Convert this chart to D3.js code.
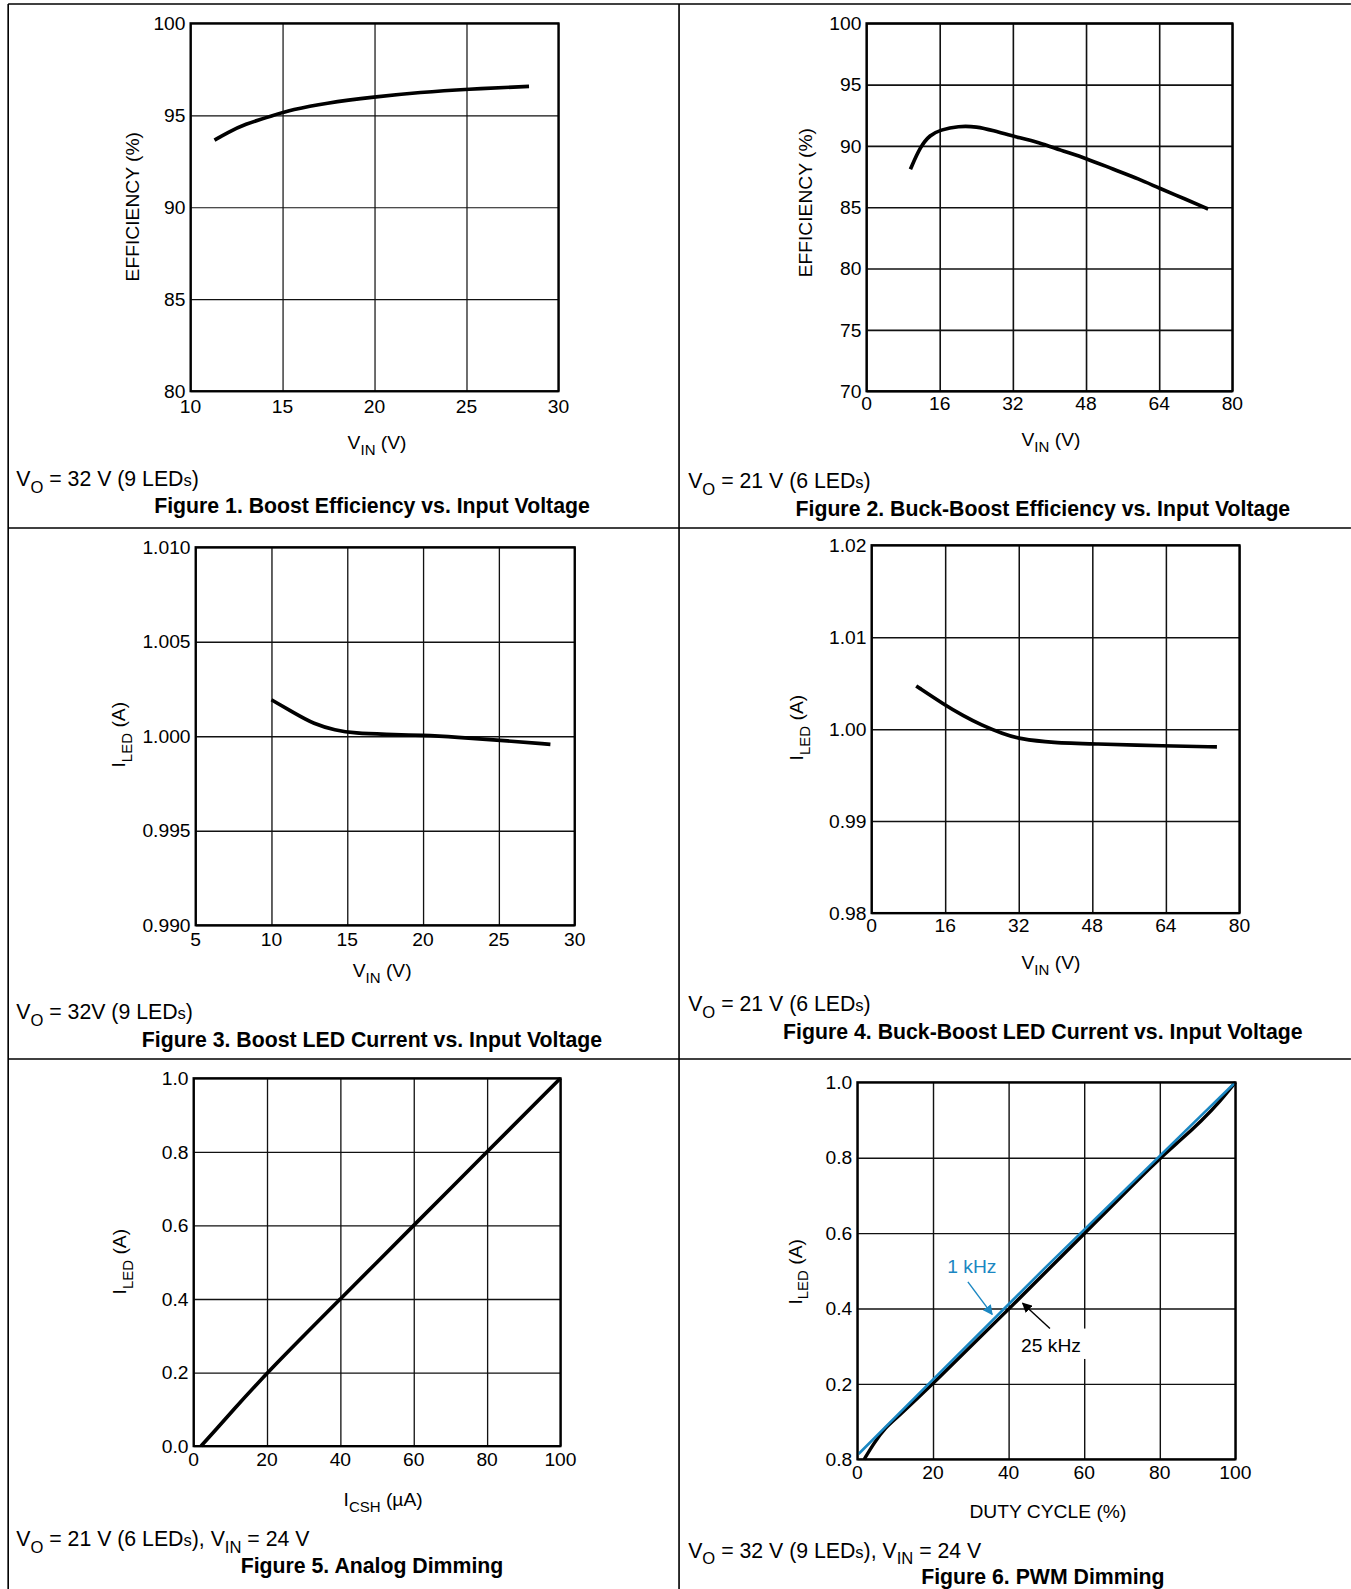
<!DOCTYPE html>
<html>
<head>
<meta charset="utf-8">
<script src="https://cdn.jsdelivr.net/npm/d3@7/dist/d3.min.js"></script>
<style>
  body { margin: 0; background: #fff; }
  svg text { font-family: "Liberation Sans", Arial, sans-serif; fill: #000; }
</style>
</head>
<body>
<svg id="chart"></svg>
<script>
// ---- data ----
var fig1Vin = [11.3, 12.0, 12.9, 14.5, 15.5, 17.3, 20, 22.5, 25, 28.4];
var fig1Eff = [93.65, 94.05, 94.5, 95.0, 95.3, 95.66, 96.0, 96.25, 96.42, 96.57];

var fig2Vin = [9.6, 11.75, 13.9, 16.1, 20.1, 24.1, 27.7, 32, 37.9, 42.2, 48, 53.9, 59.6, 64, 69.8, 74.7];
var fig2Eff = [88.1, 89.95, 90.9, 91.3, 91.63, 91.58, 91.25, 90.8, 90.27, 89.67, 89.0, 88.1, 87.3, 86.55, 85.65, 84.86];

var fig3Vin = [10, 11.5, 12.8, 14.2, 15.5, 17.5, 20, 22.2, 25, 28.4];
var fig3Iled = [1.00193, 1.00123, 1.00064, 1.00032, 1.00016, 1.0001, 1.00005, 0.99995, 0.99979, 0.99957];

var fig4Vin = [9.7, 16, 19.8, 24, 28.6, 32, 39.6, 48, 64, 75.1];
var fig4Iled = [1.0047, 1.0026, 1.0015, 1.0004, 0.9995, 0.99895, 0.99851, 0.9984, 0.99818, 0.99807];

var fig5Icsh = [2, 4, 6, 10, 20, 40, 60, 80, 100];
var fig5Iled = [0.0, 0.022, 0.044, 0.089, 0.2, 0.4, 0.6, 0.8, 1.0];

var fig6Duty1k = [0.3, 50, 100];
var fig6Iled1k = [0.014, 0.514, 1.0];
var fig6Duty25k = [1.8, 4.5, 7.5, 10, 20, 40, 60, 80, 85, 91, 96, 100];
var fig6Iled25k = [0.0, 0.045, 0.085, 0.106, 0.2, 0.398, 0.598, 0.8, 0.842, 0.897, 0.95, 1.0];

// tick values / labels
var vinTicks30 = [10, 15, 20, 25, 30];
var vinTicks5to30 = [5, 10, 15, 20, 25, 30];
var vinTicks80 = [0, 16, 32, 48, 64, 80];
var pctTicks = [0, 20, 40, 60, 80, 100];
var effTicks1 = [80, 85, 90, 95, 100];
var effTicks2 = [70, 75, 80, 85, 90, 95, 100];
var iledTicks3 = [0.990, 0.995, 1.000, 1.005, 1.010];
var iledTicks4 = [0.98, 0.99, 1.00, 1.01, 1.02];
var unitTicks = [0, 0.2, 0.4, 0.6, 0.8, 1.0];
var fig6YLabels = ["0.8", "0.2", "0.4", "0.6", "0.8", "1.0"]; // bottom label printed as 0.8 in the original

var BLUE = "#1b87c2";

var W = 1333, H = 1568; // drawing units, rendered into 1351x1589
var svg = d3.select("#chart")
  .attr("width", 1351).attr("height", 1589)
  .attr("viewBox", "0 0 " + W + " " + H);

// table rules
var rules = svg.append("g").attr("stroke", "#000").attr("stroke-width", 1.6);
rules.append("line").attr("x1", 8).attr("x2", W).attr("y1", 4).attr("y2", 4);
rules.append("line").attr("x1", 8).attr("x2", W).attr("y1", 521).attr("y2", 521);
rules.append("line").attr("x1", 8).attr("x2", W).attr("y1", 1045).attr("y2", 1045);
rules.append("line").attr("x1", 8).attr("x2", 8).attr("y1", 4).attr("y2", H);
rules.append("line").attr("x1", 670).attr("x2", 670).attr("y1", 4).attr("y2", H);

// text with subscripts / small letters: parts = [[text, kind]]
function rich(t, parts, fs) {
  var shift = 0;
  parts.forEach(function (p) {
    var ts = t.append("tspan").text(p[0]);
    var want = p[1] == "sub" ? fs * 0.32 : 0;
    if (want != shift) { ts.attr("dy", want - shift); shift = want; }
    if (p[1] == "sub" || p[1] == "sc") ts.attr("font-size", fs * 0.78);
  });
  return t;
}

var panels = [
  { box: [188, 23, 551, 386], xd: [10, 30], xt: vinTicks30, yd: [80, 100], yt: effTicks1, yf: d3.format("d"),
    grid: 1.2, tdy: 15,
    series: [{ x: fig1Vin, y: fig1Eff, c: "#000" }],
    ylab: { x: 130, y: 204, parts: [["EFFICIENCY (%)"]] },
    xlab: { x: 372, y: 437, parts: [["V"], ["IN", "sub"], [" (V)"]] },
    note: { x: 16, y: 473, parts: [["V"], ["O", "sub"], [" = 32 V (9 LED"], ["s", "sc"], [")"]] },
    title: { x: 367, y: 499, text: "Figure 1. Boost Efficiency vs. Input Voltage" } },
  { box: [855, 23, 1216, 386], xd: [0, 80], xt: vinTicks80, yd: [70, 100], yt: effTicks2, yf: d3.format("d"),
    grid: 1.6, tdy: 12,
    series: [{ x: fig2Vin, y: fig2Eff, c: "#000" }],
    ylab: { x: 795, y: 200, parts: [["EFFICIENCY (%)"]] },
    xlab: { x: 1037, y: 434, parts: [["V"], ["IN", "sub"], [" (V)"]] },
    note: { x: 679, y: 475, parts: [["V"], ["O", "sub"], [" = 21 V (6 LED"], ["s", "sc"], [")"]] },
    title: { x: 1029, y: 502, text: "Figure 2. Buck-Boost Efficiency vs. Input Voltage" } },
  { box: [193, 540, 567, 913], xd: [5, 30], xt: vinTicks5to30, yd: [0.990, 1.010], yt: iledTicks3, yf: d3.format(".3f"),
    grid: 1.3, tdy: 14,
    series: [{ x: fig3Vin, y: fig3Iled, c: "#000" }],
    ylab: { x: 117, y: 725, parts: [["I"], ["LED", "sub"], [" (A)"]] },
    xlab: { x: 377, y: 958, parts: [["V"], ["IN", "sub"], [" (V)"]] },
    note: { x: 16, y: 999, parts: [["V"], ["O", "sub"], [" = 32V (9 LED"], ["s", "sc"], [")"]] },
    title: { x: 367, y: 1026, text: "Figure 3. Boost LED Current vs. Input Voltage" } },
  { box: [860, 538, 1223, 901], xd: [0, 80], xt: vinTicks80, yd: [0.98, 1.02], yt: iledTicks4, yf: d3.format(".2f"),
    grid: 1.5, tdy: 12,
    series: [{ x: fig4Vin, y: fig4Iled, c: "#000" }],
    ylab: { x: 786, y: 718, parts: [["I"], ["LED", "sub"], [" (A)"]] },
    xlab: { x: 1037, y: 950, parts: [["V"], ["IN", "sub"], [" (V)"]] },
    note: { x: 679, y: 991, parts: [["V"], ["O", "sub"], [" = 21 V (6 LED"], ["s", "sc"], [")"]] },
    title: { x: 1029, y: 1018, text: "Figure 4. Buck-Boost LED Current vs. Input Voltage" } },
  { box: [191, 1064, 553, 1427], xd: [0, 100], xt: pctTicks, yd: [0, 1], yt: unitTicks, yf: d3.format(".1f"),
    grid: 1.3, tdy: 13,
    series: [{ x: fig5Icsh, y: fig5Iled, c: "#000" }],
    ylab: { x: 118, y: 1245, parts: [["I"], ["LED", "sub"], [" (A)"]] },
    xlab: { x: 378, y: 1480, parts: [["I"], ["CSH", "sub"], [" (µA)"]] },
    note: { x: 16, y: 1519, parts: [["V"], ["O", "sub"], [" = 21 V (6 LED"], ["s", "sc"], ["), V"], ["IN", "sub"], [" = 24 V"]] },
    title: { x: 367, y: 1545, text: "Figure 5. Analog Dimming" } },
  { box: [846, 1068, 1219, 1440], xd: [0, 100], xt: pctTicks, yd: [0, 1], yt: unitTicks,
    yf: function (d, i) { return fig6YLabels[i]; },
    grid: 1.4, tdy: 13,
    series: [{ x: fig6Duty25k, y: fig6Iled25k, c: "#000", w: 3.4 }, { x: fig6Duty1k, y: fig6Iled1k, c: BLUE, w: 2.6 }],
    ylab: { x: 785, y: 1255, parts: [["I"], ["LED", "sub"], [" (A)"]] },
    xlab: { x: 1034, y: 1492, parts: [["DUTY CYCLE (%)"]] },
    note: { x: 679, y: 1530, parts: [["V"], ["O", "sub"], [" = 32 V (9 LED"], ["s", "sc"], ["), V"], ["IN", "sub"], [" = 24 V"]] },
    title: { x: 1029, y: 1556, text: "Figure 6. PWM Dimming" } }
];

var FS = 19;     // ticks and axis titles
var FS2 = 21;    // notes and figure titles

panels.forEach(function (p, pi) {
  var g = svg.append("g");
  var l = p.box[0], t = p.box[1], r = p.box[2], b = p.box[3];

  var x = d3.scaleLinear().domain(p.xd).range([l, r]);
  var y = d3.scaleLinear().domain(p.yd).range([b, t]);

  // grid via axes with full-length ticks
  g.append("g").attr("transform", "translate(0," + b + ")")
    .call(d3.axisBottom(x).tickValues(p.xt).tickSize(-(b - t)).tickFormat(""))
    .call(function (s) { s.select(".domain").remove(); s.selectAll("line").attr("stroke", "#111").attr("stroke-width", p.grid); });
  g.append("g").attr("transform", "translate(" + l + ",0)")
    .call(d3.axisLeft(y).tickValues(p.yt).tickSize(-(r - l)).tickFormat(""))
    .call(function (s) { s.select(".domain").remove(); s.selectAll("line").attr("stroke", "#111").attr("stroke-width", p.grid); });

  // tick labels
  g.selectAll("text.xt").data(p.xt).enter().append("text")
    .attr("x", function (d) { return x(d); }).attr("y", b + p.tdy)
    .attr("dy", "0.35em").attr("text-anchor", "middle").attr("font-size", FS)
    .text(function (d) { return d; });
  g.selectAll("text.yt").data(p.yt).enter().append("text")
    .attr("x", l - 5).attr("y", function (d) { return y(d); })
    .attr("dy", "0.35em").attr("text-anchor", "end").attr("font-size", FS)
    .text(p.yf);

  // curves
  var line = d3.line()
    .x(function (d) { return x(d[0]); }).y(function (d) { return y(d[1]); })
    .curve(d3.curveBasis);
  p.series.forEach(function (s) {
    g.append("path").datum(d3.zip(s.x, s.y))
      .attr("d", line).attr("fill", "none").attr("stroke", s.c)
      .attr("stroke-width", s.w || 3.6).attr("stroke-linecap", "butt").attr("stroke-linejoin", "round");
  });

  // frame
  g.append("rect").attr("x", l).attr("y", t).attr("width", r - l).attr("height", b - t)
    .attr("fill", "none").attr("stroke", "#000").attr("stroke-width", 2.2);

  // axis titles
  rich(g.append("text").attr("transform", "translate(" + p.ylab.x + "," + p.ylab.y + ") rotate(-90)")
    .attr("text-anchor", "middle").attr("dy", "0.35em").attr("font-size", FS), p.ylab.parts, FS);
  rich(g.append("text").attr("x", p.xlab.x).attr("y", p.xlab.y + 6)
    .attr("text-anchor", "middle").attr("font-size", FS), p.xlab.parts, FS);

  // conditions note and figure title
  rich(g.append("text").attr("x", p.note.x).attr("y", p.note.y + 7).attr("font-size", FS2), p.note.parts, FS2);
  g.append("text").attr("x", p.title.x).attr("y", p.title.y + 7)
    .attr("text-anchor", "middle").attr("font-size", FS2).attr("font-weight", "bold").text(p.title.text);

  if (pi == 5) {
    var defs = svg.append("defs");
    [["ahBlue", BLUE], ["ahBlack", "#000"]].forEach(function (m) {
      defs.append("marker").attr("id", m[0]).attr("viewBox", "0 0 10 10").attr("refX", 9).attr("refY", 5)
        .attr("markerWidth", 7).attr("markerHeight", 7).attr("orient", "auto")
        .append("path").attr("d", "M0,0L10,5L0,10z").attr("fill", m[1]);
    });
    g.append("text").attr("x", 959).attr("y", 1250).attr("dy", "0.35em").attr("text-anchor", "middle")
      .attr("font-size", FS).style("fill", BLUE).text("1 kHz");
    g.append("line").attr("x1", 955).attr("y1", 1265).attr("x2", 979).attr("y2", 1297)
      .attr("stroke", BLUE).attr("stroke-width", 1.4).attr("marker-end", "url(#ahBlue)");
    g.append("rect").attr("x", 1002).attr("y", 1311).attr("width", 70).attr("height", 30).attr("fill", "#fff");
    g.append("text").attr("x", 1037).attr("y", 1327).attr("dy", "0.35em").attr("text-anchor", "middle")
      .attr("font-size", FS).text("25 kHz");
    g.append("line").attr("x1", 1036).attr("y1", 1311).attr("x2", 1009).attr("y2", 1286)
      .attr("stroke", "#000").attr("stroke-width", 1.4).attr("marker-end", "url(#ahBlack)");
  }
});
</script>
</body>
</html>
